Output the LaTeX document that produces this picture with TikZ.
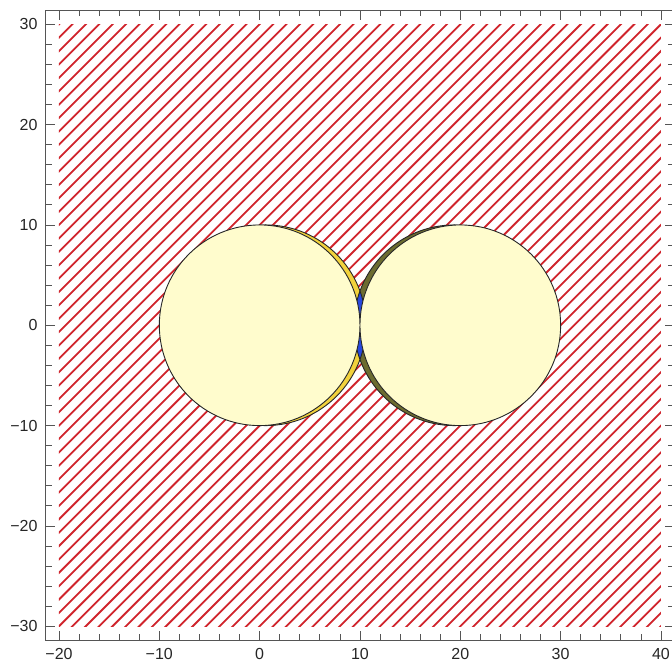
\documentclass[tikz,border=0pt]{standalone}
\usepackage{fontspec}
\setmainfont{Liberation Sans}
\usetikzlibrary{calc}
\definecolor{HatchRed}{RGB}{208,36,44}
\definecolor{DiscCream}{RGB}{255,252,205}
\definecolor{DiscYellow}{RGB}{242,210,60}
\definecolor{DiscOlive}{RGB}{108,108,48}
\definecolor{LensBlue}{RGB}{40,72,222}
\definecolor{FrameGray}{RGB}{85,85,85}

\begin{document}
\begin{tikzpicture}[x=10.03pt,y=10.03pt,font=\fontsize{16}{19}\selectfont,
    hatch/.style={HatchRed,line width=1.8pt},
    disc edge/.style={draw=black!85,line width=0.9pt},
    axis line/.style={FrameGray,line width=0.8pt},
    ticklabel/.style={inner sep=0pt,text=black!85}]
  \useasboundingbox (-25.88,-33.69) rectangle (41.10,32.42);
  % red hatching over the plot range
  \begin{scope}
    \clip (-20,-30) rectangle (40,30);
    \foreach \k in {0,...,90}
      \draw[hatch] (-80,{-30-\k*4/3}) -- (60,{110-\k*4/3});
  \end{scope}
  % shifted discs and their overlap
  \fill[DiscYellow] (0.6,0) circle[radius=10];
  \fill[DiscOlive] (19.4,0) circle[radius=10];
  \begin{scope}
    \clip (0.6,0) circle[radius=10];
    \fill[LensBlue] (19.4,0) circle[radius=10];
  \end{scope}
  \draw[disc edge] (0.6,0) circle[radius=10] (19.4,0) circle[radius=10];
  % the two unit discs
  \filldraw[fill=DiscCream,disc edge] (0,0) circle[radius=10] (20,0) circle[radius=10];
  % frame and ticks
  \draw[axis line] (-21.33,-31.40) rectangle (41.33,31.40);
  \foreach \v in {-20,-18,...,40} {
    \draw[axis line] (\v,-31.40) -- ++(0,0.6);
    \draw[axis line] (\v,31.40) -- ++(0,-0.6);
  }
  \foreach \v in {-30,-28,...,30} {
    \draw[axis line] (-21.33,\v) -- ++(0.6,0);
    \draw[axis line] (41.33,\v) -- ++(-0.6,0);
  }
  \foreach \v/\t [count=\i] in {-20/−20,-10/−10,0/0,10/10,20/20,30/30,40/40} {
    \draw[axis line] (\v,-31.40) -- ++(0,0.93);
    \draw[axis line] (\v,31.40) -- ++(0,-0.93);
    \node[ticklabel,anchor=north] (xlab\i) at (\v,-32.2) {\t};
  }
  \foreach \v/\t [count=\i] in {-30/−30,-20/−20,-10/−10,0/0,10/10,20/20,30/30} {
    \draw[axis line] (-21.33,\v) -- ++(0.93,0);
    \draw[axis line] (41.33,\v) -- ++(-0.93,0);
    \node[ticklabel,anchor=east] (ylab\i) at (-22.13,\v) {\t};
  }
\end{tikzpicture}
\end{document}
